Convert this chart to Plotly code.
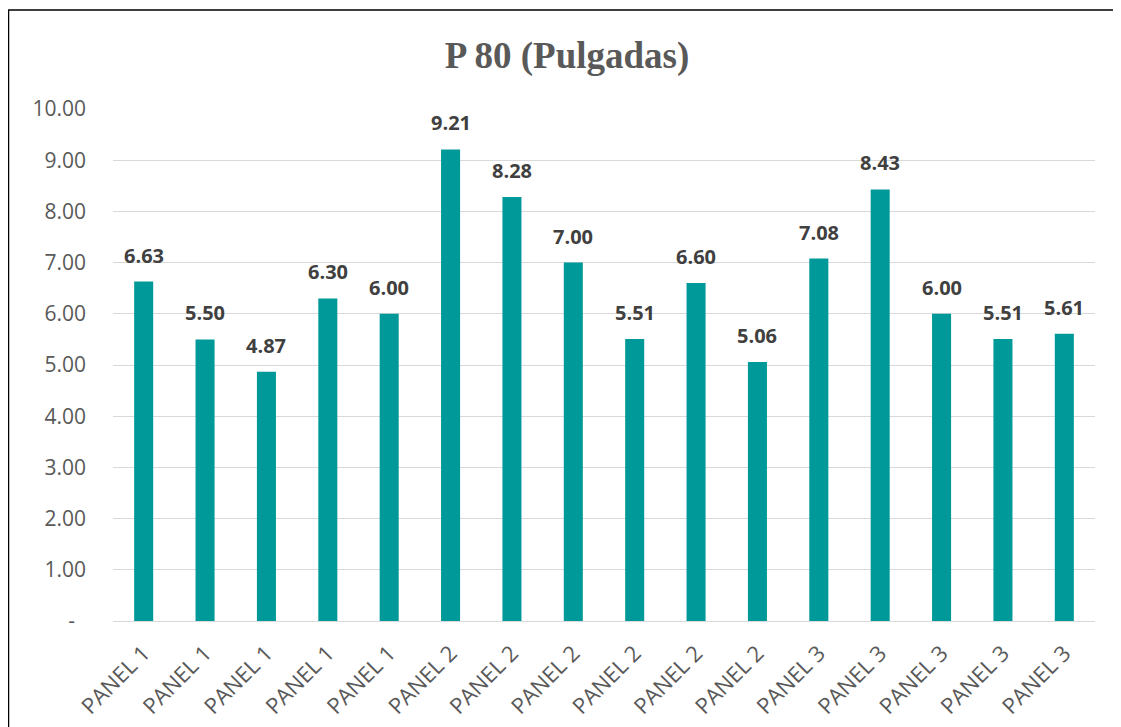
import plotly.graph_objects as go

categories = ["PANEL 1"] * 5 + ["PANEL 2"] * 6 + ["PANEL 3"] * 5
values = [6.63, 5.50, 4.87, 6.30, 6.00, 9.21, 8.28, 7.00, 5.51, 6.60, 5.06, 7.08, 8.43, 6.00, 5.51, 5.61]
y_ticks = [0, 1, 2, 3, 4, 5, 6, 7, 8, 9, 10]
y_tick_text = ["-\u00a0\u00a0"] + [f"{v:.2f}" for v in y_ticks[1:]]
value_labels = [f"{v:.2f}" for v in values]

positions = list(range(len(values)))

# page is offset by the 8px body margin
W, H = 1113, 719
L, T, R, B = 105, 101, 26, 106
PW, PH = W - L - R, H - T - B

fig = go.Figure(go.Bar(
    x=positions,
    y=values,
    marker=dict(color="#009999", line=dict(width=0)),
    hoverinfo="y",
))

for xp, v, lab in zip(positions, values, value_labels):
    fig.add_annotation(
        x=xp, y=v, text=f"<b>{lab}</b>", showarrow=False,
        xanchor="center", yanchor="bottom", yshift=11,
        font=dict(family="Open Sans, sans-serif", size=20, color="#404040"),
    )

fig.update_layout(
    width=W, height=H,
    margin=dict(l=L, r=R, t=T, b=B, autoexpand=False),
    paper_bgcolor="white",
    plot_bgcolor="white",
    bargap=0.69,
    showlegend=False,
    title=dict(
        text="<b>P 80 (Pulgadas)</b>",
        x=(567 - 8) / W, xanchor="center",
        y=1 - 47 / H, yanchor="middle",
        font=dict(family="Liberation Serif, Times New Roman, serif", size=37, color="#595959"),
    ),
    xaxis=dict(
        tickmode="array", tickvals=positions, ticktext=categories,
        tickangle=-45, range=[-0.5, len(values) - 0.5],
        showgrid=False, zeroline=False, showline=False, ticks="",
        ticklabelstandoff=14, automargin=False,
        tickfont=dict(family="Open Sans, sans-serif", size=22, color="#595959"),
    ),
    yaxis=dict(
        range=[0, 10], tickmode="array", tickvals=y_ticks, ticktext=y_tick_text,
        showgrid=True, gridcolor="#d9d9d9", gridwidth=1,
        zeroline=True, zerolinecolor="#d9d9d9", zerolinewidth=1,
        showline=False, ticks="", ticklen=0,
        ticklabelstandoff=26, automargin=False,
        tickfont=dict(family="Open Sans, sans-serif", size=21, color="#595959"),
    ),
    shapes=[dict(
        type="rect", xref="paper", yref="paper",
        x0=(0.5 - L) / PW, x1=(1109 - L) / PW,
        y0=-0.3, y1=1 + (T - 2) / PH,
        line=dict(color="black", width=1.5), fillcolor="rgba(0,0,0,0)", layer="below",
    )],
)

fig.write_html("out.html")
